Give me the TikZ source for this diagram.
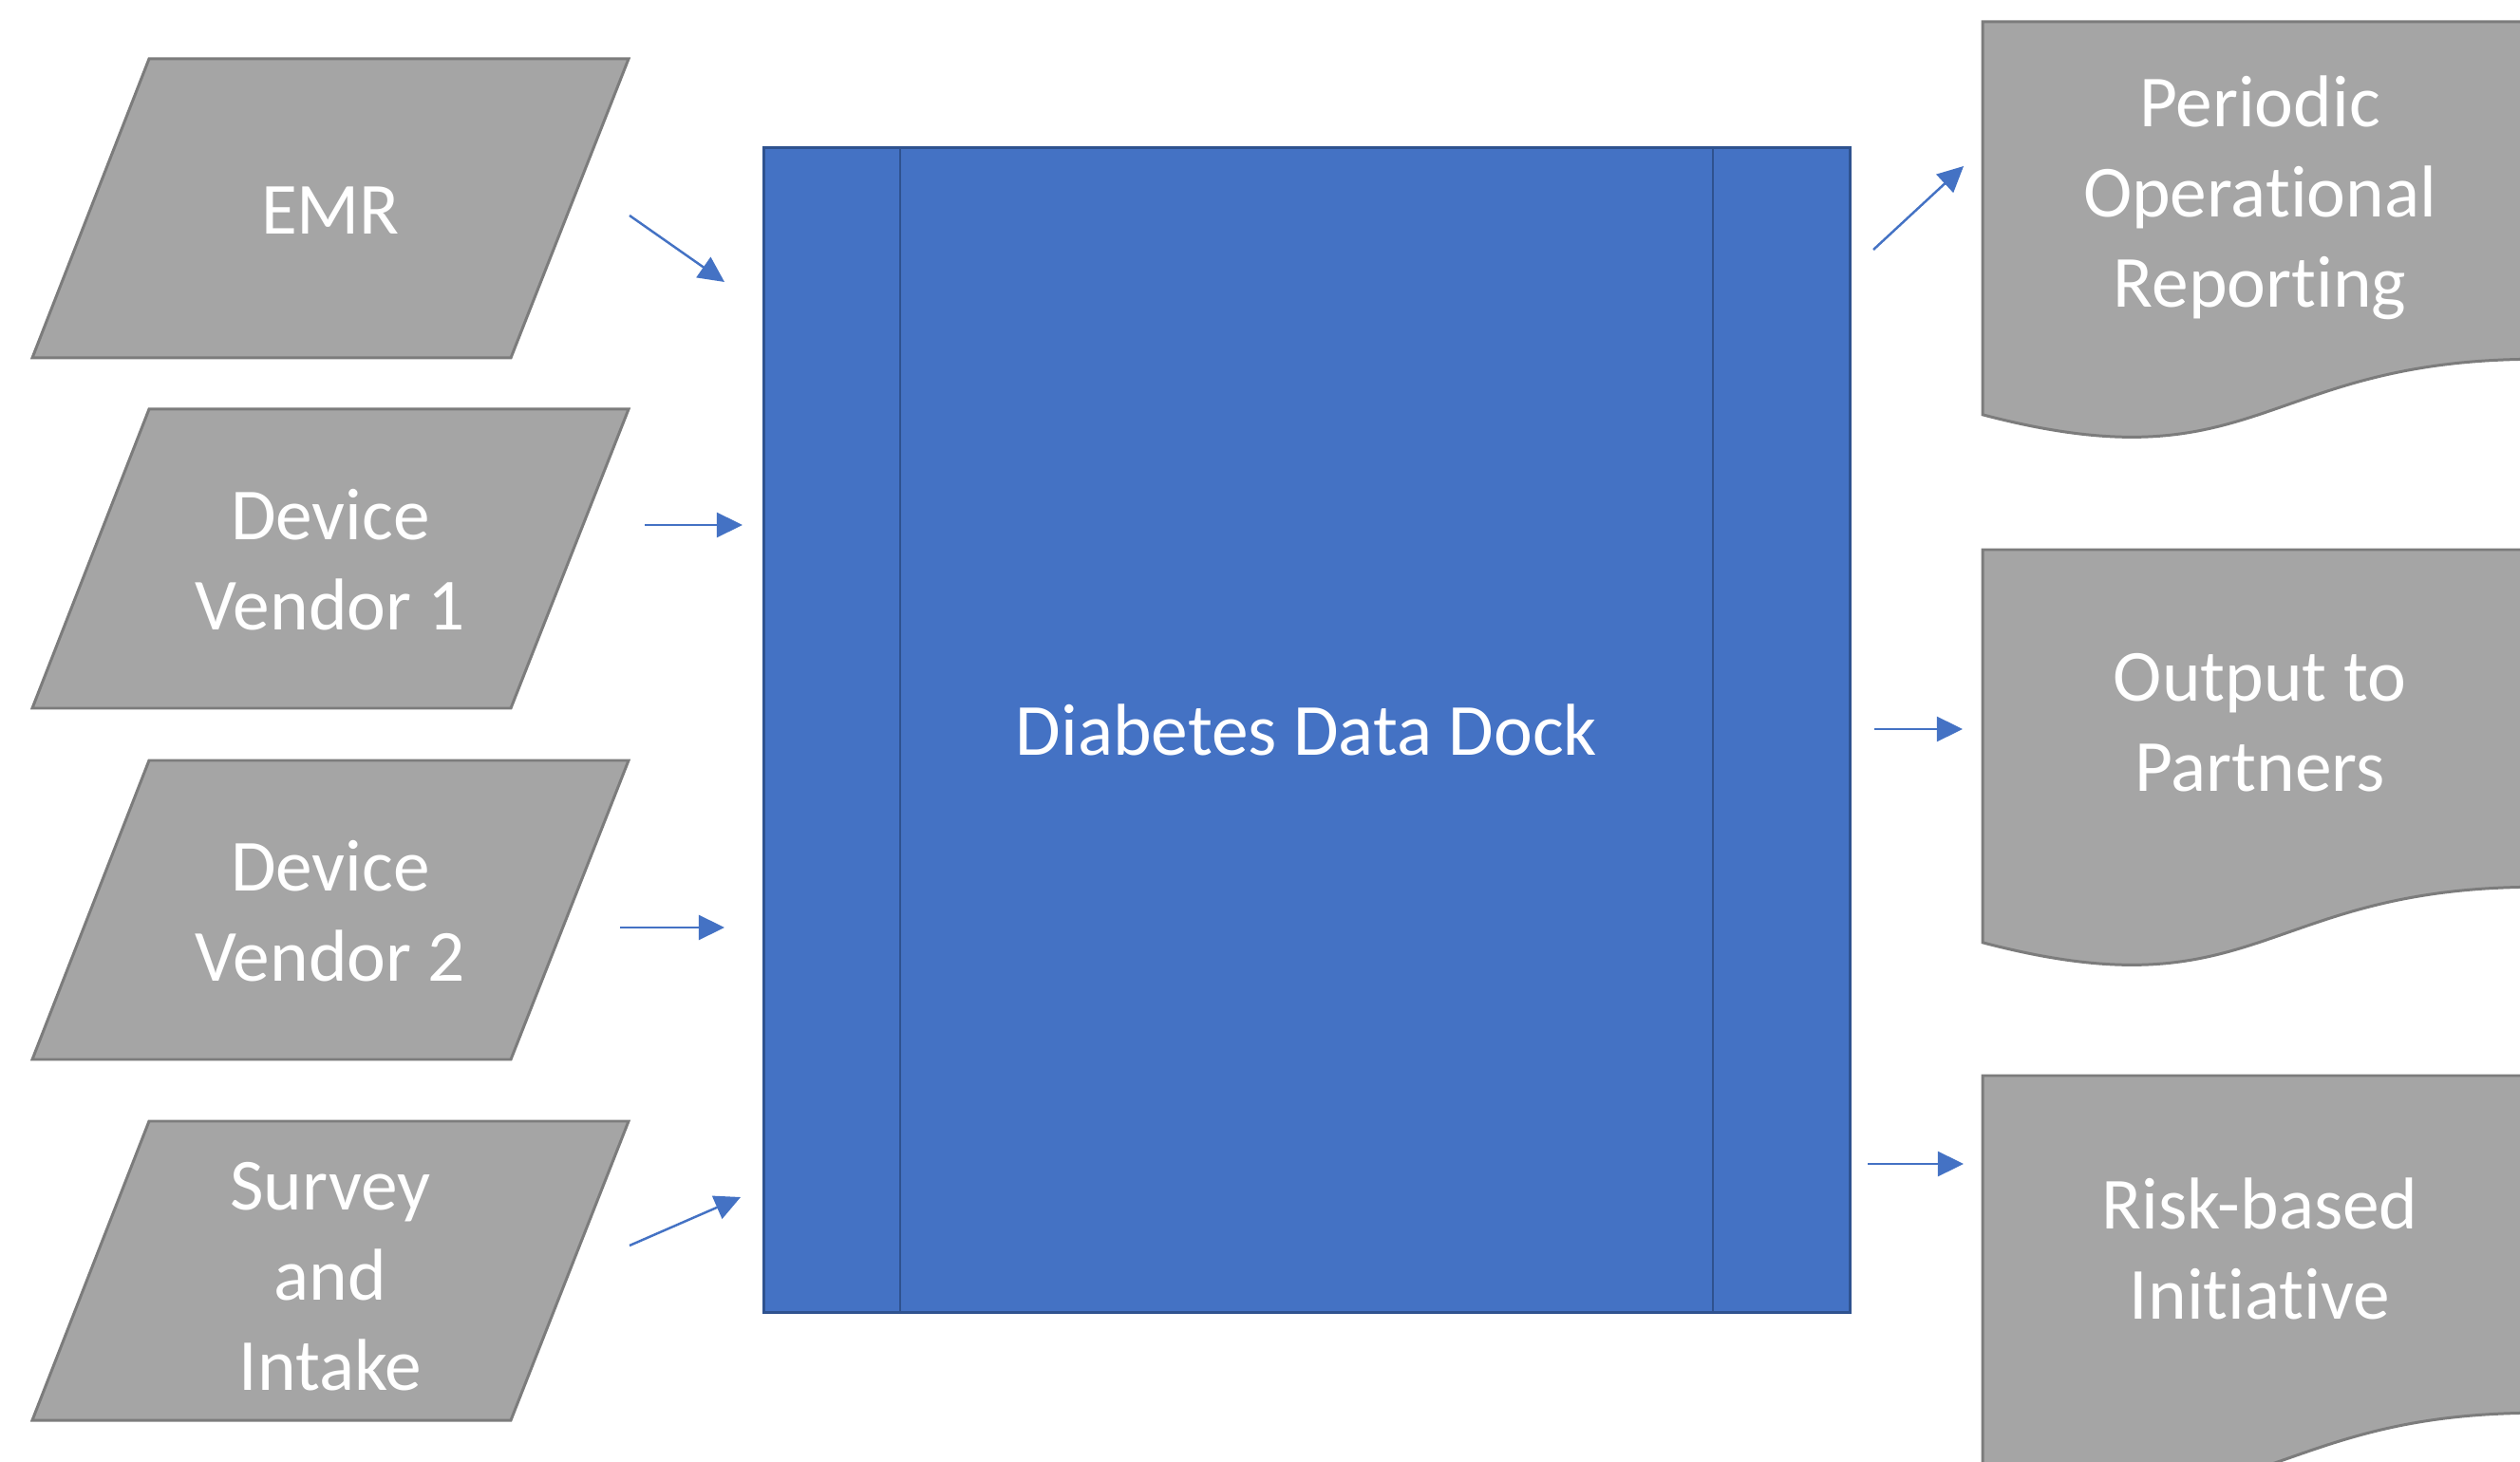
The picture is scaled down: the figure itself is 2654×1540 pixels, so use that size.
\documentclass[tikz,border=0pt]{standalone}
\usepackage{fontspec}
\setmainfont{Carlito}[Ligatures=NoCommon]
\usetikzlibrary{arrows.meta}
\definecolor{dockblue}{HTML}{4472C4}
\definecolor{dockedge}{HTML}{2F528F}
\definecolor{boxgray}{HTML}{A5A5A5}
\definecolor{edgegray}{HTML}{7C7C7C}
\newcommand\paralshape[1]{%
  \path[inshape] (157,#1) -- (662,#1) -- (538,{#1+315}) -- (34,{#1+315}) -- cycle;}
\newcommand\docshape[1]{%
  \path[inshape] (2088,#1) -- (2672,#1) -- (2672,{#1+355.3})
    .. controls (2380,{#1+355.3}) and (2380,{#1+490.6}) .. (2088,{#1+413.8}) -- cycle;}
\begin{document}
\begin{tikzpicture}[x=0.01cm,y=-0.01cm,
  inshape/.style={fill=boxgray,draw=edgegray,line width=0.85pt,line join=miter},
  lbl/.style={text=white,font=\fontsize{22}{27}\selectfont,align=center,inner sep=0pt},
  flow/.style={draw=dockblue,line width=0.7pt,-{Triangle[length=7.7pt,width=7.4pt]}}]
\useasboundingbox (0,0) rectangle (2654,1540);
\clip (0,0) rectangle (2654,1540);
\fill[white] (0,0) rectangle (2654,1540);

% input parallelograms
\paralshape{62}
\paralshape{431}
\paralshape{801}
\paralshape{1181}
\node[lbl] (emr) at (348,222) {EMR};
\node[lbl] (dv1) at (348,590) {Device\\Vendor 1};
\node[lbl] (dv2) at (348,960) {Device\\Vendor 2};
\node[lbl] (srv) at (348,1345) {Survey\\and\\Intake};

% central dock
\path[fill=dockblue,draw=dockedge,line width=0.85pt] (804,156) rectangle (1948,1382);
\draw[dockedge,line width=0.6pt] (948,156) -- (948,1382);
\draw[dockedge,line width=0.6pt] (1804,156) -- (1804,1382);
\node[lbl] (dock) at (1376,769) {Diabetes Data Dock};

% output documents
\docshape{23}
\docshape{579}
\docshape{1133}
\node[lbl] (per) at (2380,208) {Periodic\\Operational\\Reporting};
\node[lbl] (out) at (2380,761) {Output to\\Partners};
\node[lbl] (risk) at (2380,1315) {Risk-based\\Initiative};

% arrow end points
\coordinate (a1s) at (663,227);  \coordinate (a1e) at (763,297);
\coordinate (a2s) at (679,553);  \coordinate (a2e) at (782,553);
\coordinate (a3s) at (653,977);  \coordinate (a3e) at (763,977);
\coordinate (a4s) at (663,1312); \coordinate (a4e) at (780,1261);
\coordinate (b1s) at (1973,263); \coordinate (b1e) at (2068,175);
\coordinate (b2s) at (1974,768); \coordinate (b2e) at (2067,768);
\coordinate (b3s) at (1967,1226);\coordinate (b3e) at (2068,1226);

\draw[flow] (a1s) -- (a1e);
\draw[flow] (a2s) -- (a2e);
\draw[flow] (a3s) -- (a3e);
\draw[flow] (a4s) -- (a4e);
\draw[flow] (b1s) -- (b1e);
\draw[flow] (b2s) -- (b2e);
\draw[flow] (b3s) -- (b3e);
\end{tikzpicture}
\end{document}
